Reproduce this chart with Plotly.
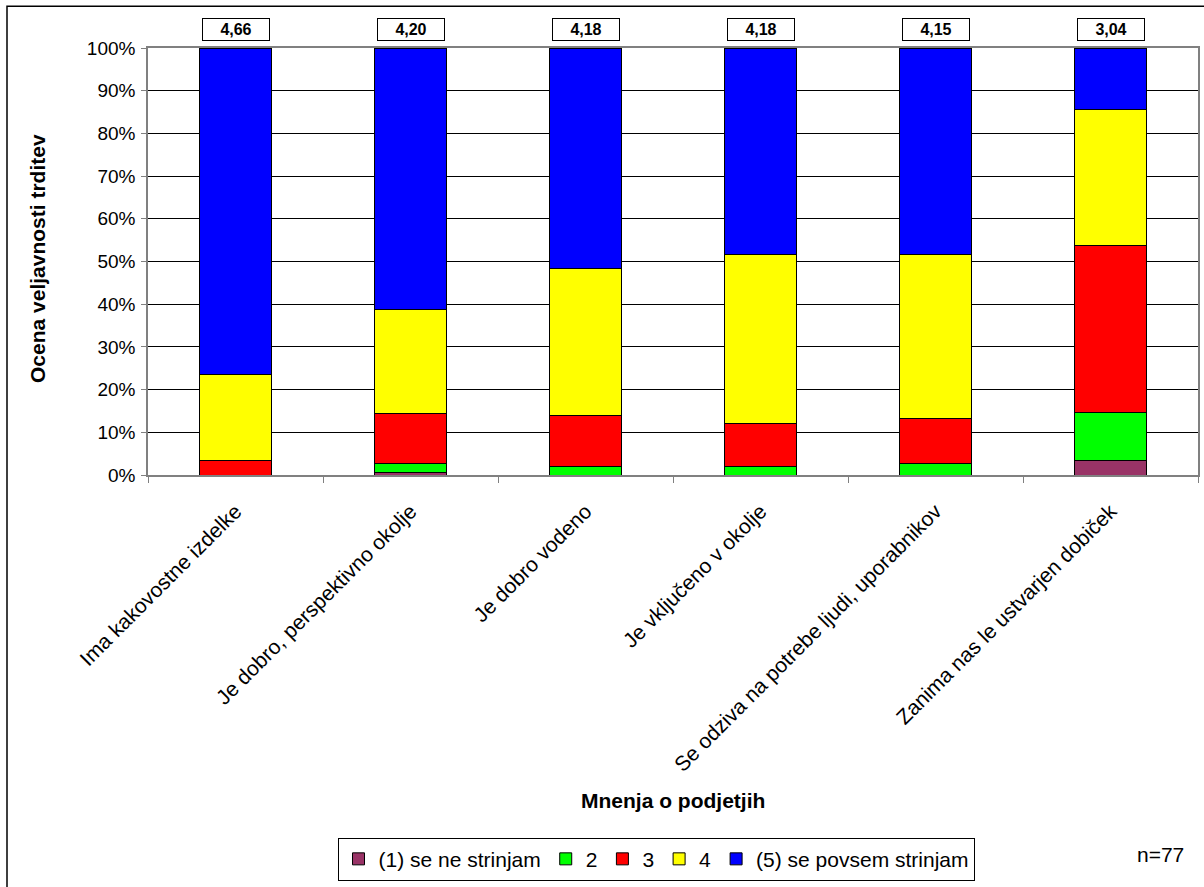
import plotly.graph_objects as go

categories = [
    "Ima kakovostne izdelke",
    "Je dobro, perspektivno okolje",
    "Je dobro vodeno",
    "Je vključeno v okolje",
    "Se odziva na potrebe ljudi, uporabnikov",
    "Zanima nas le ustvarjen dobiček",
]
series_names = ["(1) se ne strinjam", "2", "3", "4", "(5) se povsem strinjam"]
series_colors = ["#993366", "#00FF00", "#FF0000", "#FFFF00", "#0000FF"]

# shares of answers per statement (percent)
share_1 = [0.0, 0.6, 0.0, 0.0, 0.0, 3.5]
share_2 = [0.0, 2.1, 2.0, 2.1, 2.7, 11.1]
share_3 = [3.5, 11.7, 12.0, 10.0, 10.6, 39.1]
share_4 = [20.0, 24.4, 34.4, 39.6, 38.4, 32.0]
share_5 = [76.5, 61.2, 51.6, 48.3, 48.3, 14.3]
series_values = [share_1, share_2, share_3, share_4, share_5]

mean_labels = ["4,66", "4,20", "4,18", "4,18", "4,15", "3,04"]
y_ticks = [0, 10, 20, 30, 40, 50, 60, 70, 80, 90, 100]
y_tick_labels = [f"{t}%" for t in y_ticks]

FONT = "Liberation Sans, Arial, sans-serif"

fig = go.Figure()
for name, color, vals in zip(series_names, series_colors, series_values):
    fig.add_trace(go.Bar(
        x=categories, y=vals, name=name,
        marker=dict(color=color, line=dict(color="#000000", width=1)),
        hoverinfo="skip",
    ))

W, H = 1204, 887
L, R, T, B = 148, 1198, 48, 477


def px_x(px):
    return (px - L) / (R - L)


def px_y(py):
    return (B - py) / (B - T)


# mean score boxes above bars
for cat, lab in zip(categories, mean_labels):
    fig.add_annotation(
        x=cat, xref="x", y=px_y(29), yref="paper", yanchor="middle",
        text=f"<b>{lab}</b>", showarrow=False,
        font=dict(family=FONT, size=16, color="#000"),
        bordercolor="#000", borderwidth=1, bgcolor="#fff",
        width=64, height=19, borderpad=1,
    )

# axis titles
fig.add_annotation(
    x=px_x(37), xref="paper", xanchor="center",
    y=px_y(260), yref="paper", yanchor="middle",
    text="<b>Ocena veljavnosti trditev</b>", textangle=-90, showarrow=False,
    font=dict(family=FONT, size=21, color="#000"),
)
fig.add_annotation(
    x=px_x(673), xref="paper", xanchor="center",
    y=px_y(804), yref="paper", yanchor="middle",
    text="<b>Mnenja o podjetjih</b>", showarrow=False,
    font=dict(family=FONT, size=21, color="#000"),
)

fig.add_annotation(
    x=px_x(1160), xref="paper", xanchor="center",
    y=px_y(858), yref="paper", yanchor="middle",
    text="n=77", showarrow=False,
    font=dict(family=FONT, size=21, color="#000"),
)

# outer chart frame
fig.add_shape(
    type="rect", xref="paper", yref="paper",
    x0=px_x(7), x1=px_x(1215), y0=px_y(905), y1=px_y(6),
    line=dict(color="#000", width=1.5), fillcolor="rgba(0,0,0,0)", layer="below",
)

fig.update_layout(
    width=W, height=H,
    margin=dict(l=L, r=W - R, t=T, b=H - B, pad=0),
    barmode="stack", bargap=0.59,
    paper_bgcolor="#fff", plot_bgcolor="#fff",
    font=dict(family=FONT, size=19, color="#000"),
    showlegend=True,
    legend=dict(
        orientation="h", x=px_x(656), xanchor="center",
        y=px_y(863), yanchor="middle",
        bordercolor="#000", borderwidth=1, bgcolor="#fff",
        font=dict(family=FONT, size=21), traceorder="normal",
        itemwidth=30,
    ),
    xaxis=dict(
        type="category", tickangle=-45, tickson="boundaries",
        ticks="outside", ticklen=6, tickcolor="#808080",
        showline=True, linecolor="#808080", linewidth=1.5, mirror=True,
        showgrid=False, ticklabelstandoff=14,
        tickfont=dict(family=FONT, size=21),
        automargin=False,
    ),
    yaxis=dict(
        range=[0, 100], tickvals=y_ticks, ticktext=y_tick_labels,
        ticks="outside", ticklen=5, tickcolor="#808080",
        showline=True, linecolor="#808080", linewidth=1.5, mirror=True,
        showgrid=True, gridcolor="#000", gridwidth=1,
        tickfont=dict(family=FONT, size=19), ticklabelstandoff=2,
        automargin=False,
    ),
)

fig.write_html("out.html")
